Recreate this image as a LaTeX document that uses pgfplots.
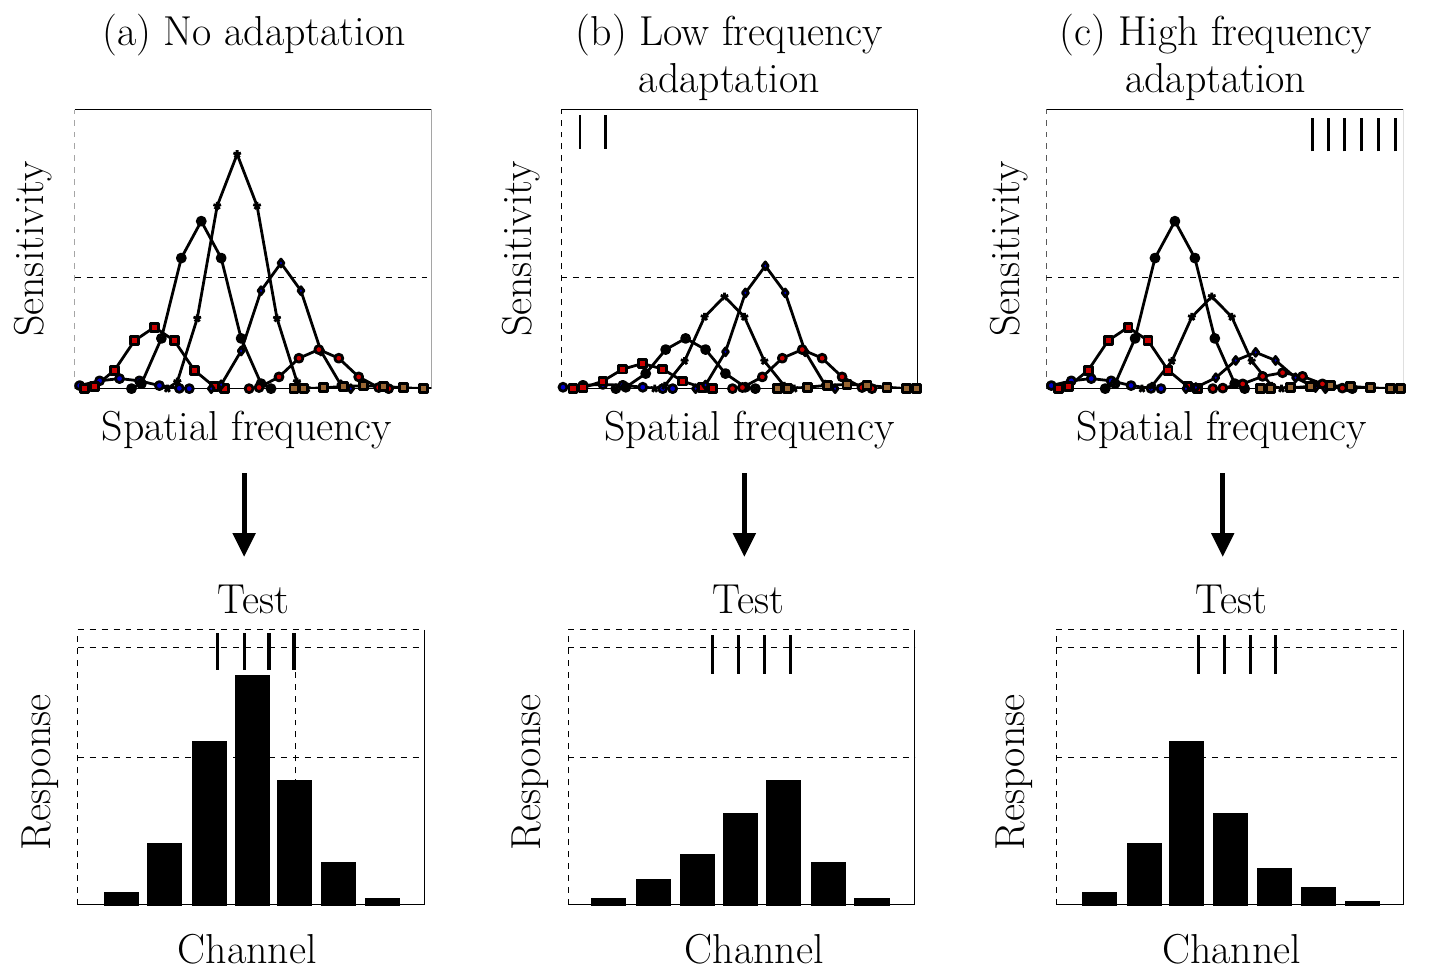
\documentclass[border=0pt]{standalone}
\usepackage{pgfplots}
\pgfplotsset{compat=1.18}
\usetikzlibrary{arrows.meta}
\pgfplotsset{
 top/.style={scale only axis,anchor=south west,width=179pt,height=140pt,xmin=0,xmax=358,ymin=0,ymax=1,hide axis,clip=true,
   every axis plot post/.append style={black,no marks,solid,line width=1.4pt,line join=round}},
 bot/.style={scale only axis,anchor=south west,width=174pt,height=138pt,xmin=0,xmax=348,ymin=0,ymax=1,hide axis,clip=false,
   every axis plot post/.append style={black,no marks,solid,line width=1.6pt}},
}
\newcommand{\frameT}{%
 \draw[thin,dashed] (rel axis cs:0,0)--(rel axis cs:0,1);
 \draw[thin] (rel axis cs:0,1)--(rel axis cs:1,1)--(rel axis cs:1,0)--(rel axis cs:0,0);
 \draw[thin,dashed] (axis cs:0,0.4)--(axis cs:358,0.4);}
\newcommand{\frameB}{%
 \draw[thin,dashed] (rel axis cs:0,0)--(rel axis cs:0,1)--(rel axis cs:1,1);
 \draw[thin] (rel axis cs:1,1)--(rel axis cs:1,0)--(rel axis cs:0,0);
 \draw[thin,dashed] (axis cs:0,0.536)--(axis cs:348,0.536);
 \draw[thin,dashed] (axis cs:0,0.935)--(axis cs:348,0.935);}
\begin{document}
\begin{tikzpicture}[x=1pt,y=1pt]
\fontsize{21}{25}\selectfont
\path (0,0) rectangle (724,483.5);
% ---- top (a)
\begin{axis}[top,at={(35pt,293.5pt)}]
\frameT
\addplot coordinates {(-25,0)(-15,0.001)(5,0.011)(25,0.028)(45,0.036)(65,0.028)(85,0.011)(105,0.001)(115,0)};
\addplot coordinates {(10,0)(20,0.007)(40,0.066)(60,0.172)(80,0.22)(100,0.172)(120,0.066)(140,0.007)(150,0)};
\addplot coordinates {(57,0)(67,0.018)(87,0.18)(107,0.468)(127,0.6)(147,0.468)(167,0.18)(187,0.018)(197,0)};
\addplot coordinates {(93,0)(103,0.025)(123,0.252)(143,0.655)(163,0.84)(183,0.655)(203,0.252)(223,0.025)(233,0)};
\addplot coordinates {(137,0)(147,0.014)(167,0.135)(187,0.351)(207,0.45)(227,0.351)(247,0.135)(267,0.014)(277,0)};
\addplot coordinates {(175,0)(185,0.004)(205,0.042)(225,0.109)(245,0.14)(265,0.109)(285,0.042)(305,0.004)(315,0)};
\addplot coordinates {(220,0)(230,0)(250,0.003)(270,0.008)(290,0.01)(310,0.008)(330,0.003)(350,0)(360,0)};
\end{axis}
% ---- top (b)
\begin{axis}[top,at={(279pt,293.5pt)}]
\frameT
\addplot coordinates {(-28,0)(-18,0)(2,0.005)(22,0.012)(42,0.015)(62,0.012)(82,0.005)(102,0)(112,0)};
\addplot coordinates {(12,0)(22,0.003)(42,0.027)(62,0.07)(82,0.09)(102,0.07)(122,0.027)(142,0.003)(152,0)};
\addplot coordinates {(55,0)(65,0.005)(85,0.054)(105,0.14)(125,0.18)(145,0.14)(165,0.054)(185,0.005)(195,0)};
\addplot coordinates {(94,0)(104,0.01)(124,0.099)(144,0.257)(164,0.33)(184,0.257)(204,0.099)(224,0.01)(234,0)};
\addplot coordinates {(135,0)(145,0.013)(165,0.132)(185,0.343)(205,0.44)(225,0.343)(245,0.132)(265,0.013)(275,0)};
\addplot coordinates {(172,0)(182,0.004)(202,0.042)(222,0.109)(242,0.14)(262,0.109)(282,0.042)(302,0.004)(312,0)};
\addplot coordinates {(217,0)(227,0)(247,0.005)(267,0.012)(287,0.015)(307,0.012)(327,0.005)(347,0)(357,0)};
\addplot[line width=2.4pt] coordinates {(19,0.86)(19,0.98)};
\addplot[line width=2.4pt] coordinates {(45,0.86)(45,0.98)};
\end{axis}
% ---- top (c)
\begin{axis}[top,at={(522.5pt,293.5pt)}]
\frameT
\addplot coordinates {(-25,0)(-15,0.001)(5,0.011)(25,0.028)(45,0.036)(65,0.028)(85,0.011)(105,0.001)(115,0)};
\addplot coordinates {(12,0)(22,0.007)(42,0.066)(62,0.172)(82,0.22)(102,0.172)(122,0.066)(142,0.007)(152,0)};
\addplot coordinates {(59,0)(69,0.018)(89,0.18)(109,0.468)(129,0.6)(149,0.468)(169,0.18)(189,0.018)(199,0)};
\addplot coordinates {(96,0)(106,0.01)(126,0.099)(146,0.257)(166,0.33)(186,0.257)(206,0.099)(226,0.01)(236,0)};
\addplot coordinates {(140,0)(150,0.004)(170,0.039)(190,0.101)(210,0.13)(230,0.101)(250,0.039)(270,0.004)(280,0)};
\addplot coordinates {(167,0)(177,0.002)(197,0.017)(217,0.044)(237,0.057)(257,0.044)(277,0.017)(297,0.002)(307,0)};
\addplot coordinates {(215,0)(225,0)(245,0.003)(265,0.008)(285,0.01)(305,0.008)(325,0.003)(345,0)(355,0)};
\addplot[line width=1pt] coordinates {(267,0.85)(267,0.97)};
\addplot[line width=1pt] coordinates {(283,0.85)(283,0.97)};
\addplot[line width=1pt] coordinates {(299,0.85)(299,0.97)};
\addplot[line width=1pt] coordinates {(316,0.85)(316,0.97)};
\addplot[line width=1pt] coordinates {(333,0.85)(333,0.97)};
\addplot[line width=1pt] coordinates {(350,0.85)(350,0.97)};
\end{axis}
% ---- bottom (a)
\begin{axis}[bot,at={(36.5pt,34.5pt)}]
\frameB
\draw[thin,dashed] (axis cs:218,0)--(axis cs:218,1);
\addplot[ybar,bar width=32,fill=white] coordinates {(44,0.04)(87,0.22)(132,0.59)(175,0.83)(218,0.45)(262,0.15)(306,0.02)};
\addplot[line width=1.3pt] coordinates {(140,0.855)(140,0.99)};
\addplot[line width=1.3pt] coordinates {(167,0.855)(167,0.99)};
\addplot[line width=1.3pt] coordinates {(192,0.855)(192,0.99)};
\addplot[line width=1.3pt] coordinates {(217,0.855)(217,0.99)};
\end{axis}
% ---- bottom (b)
\begin{axis}[bot,at={(282.5pt,34.5pt)}]
\frameB
\addplot[ybar,bar width=32,fill=white] coordinates {(41,0.02)(86,0.09)(130,0.18)(173,0.33)(216,0.45)(261,0.15)(305,0.02)};
\addplot[line width=1.3pt] coordinates {(145,0.84)(145,0.98)};
\addplot[line width=1.3pt] coordinates {(171,0.84)(171,0.98)};
\addplot[line width=1.3pt] coordinates {(197,0.84)(197,0.98)};
\addplot[line width=1.3pt] coordinates {(223,0.84)(223,0.98)};
\end{axis}
% ---- bottom (c)
\begin{axis}[bot,at={(527.5pt,34.5pt)}]
\frameB
\addplot[ybar,bar width=32,fill=white] coordinates {(43,0.04)(88,0.22)(131,0.59)(175,0.33)(219,0.13)(263,0.06)(307,0.01)};
\addplot[line width=1.6pt] coordinates {(143,0.84)(143,0.98)};
\addplot[line width=1.3pt] coordinates {(169,0.84)(169,0.98)};
\addplot[line width=1.3pt] coordinates {(195,0.84)(195,0.98)};
\addplot[line width=1.3pt] coordinates {(220,0.84)(220,0.98)};
\end{axis}
% ---- texts
\node at (125,471) {(a) No adaptation};
\node at (363.5,471) {(b) Low frequency};
\node at (363.5,447.5) {adaptation};
\node at (607.5,471) {(c) High frequency};
\node at (607.5,447.5) {adaptation};
\node[rotate=90] at (14,363.5) {Sensitivity};
\node[rotate=90] at (259,363.5) {Sensitivity};
\node[rotate=90] at (504,363.5) {Sensitivity};
\node at (121.5,272.5) {Spatial frequency};
\node at (373.5,272.5) {Spatial frequency};
\node at (610.5,272.5) {Spatial frequency};
\foreach \x in {120,371,611}{\draw[line width=2.5pt,-{Triangle[length=12pt,width=11pt]}] (\x,251)--(\x,209);}
\node at (124.5,187.5) {Test};
\node at (373,187.5) {Test};
\node at (615.5,187.5) {Test};
\node[rotate=90] at (17.5,101) {Response};
\node[rotate=90] at (263.5,101) {Response};
\node[rotate=90] at (506.5,101) {Response};
\node at (121.5,12.5) {Channel};
\node at (376,12.5) {Channel};
\node at (615.5,12.5) {Channel};
\end{tikzpicture}
\end{document}
